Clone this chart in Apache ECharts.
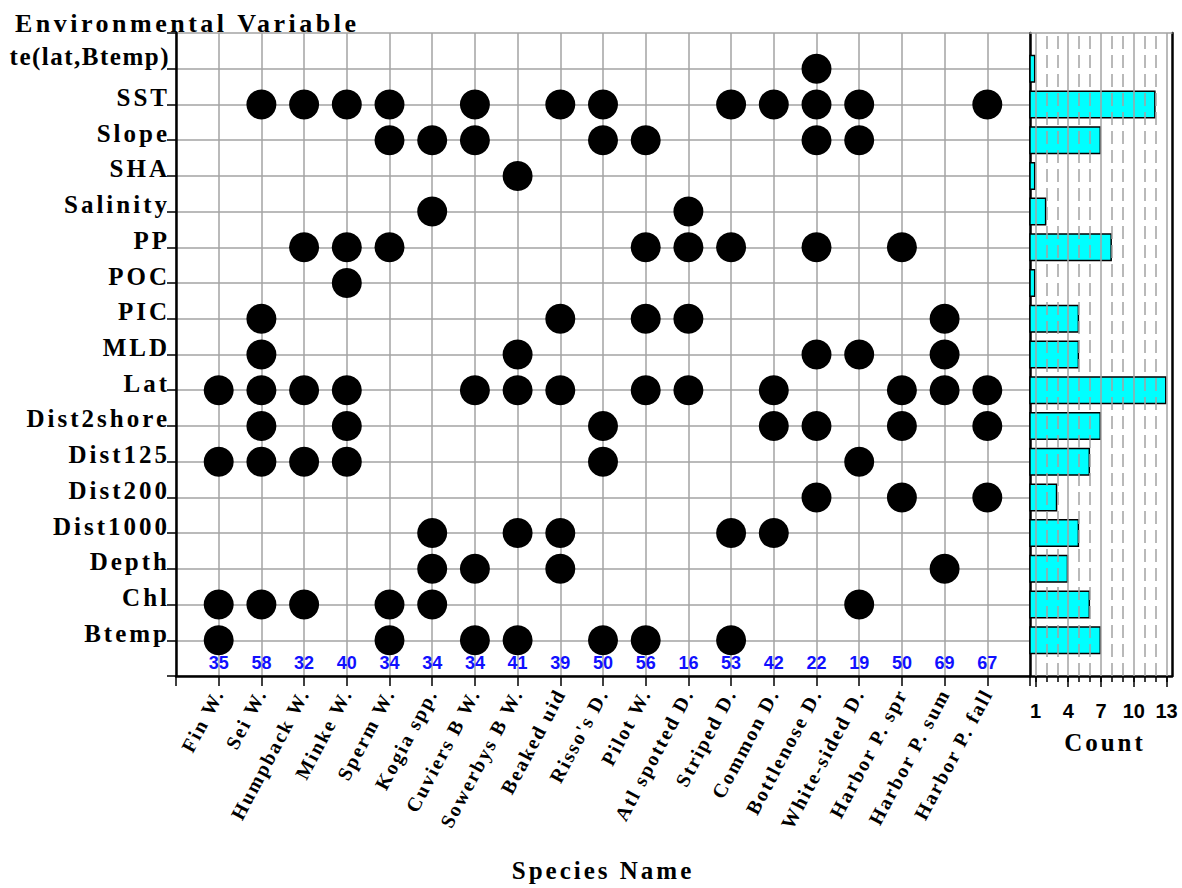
<!DOCTYPE html>
<html><head><meta charset="utf-8">
<script src="https://cdn.jsdelivr.net/npm/echarts@6/dist/echarts.min.js"></script>
<style>
html,body{margin:0;padding:0;background:#fff;}
#main{width:1182px;height:888px;}
#main text[style*="Serif"]{letter-spacing:2px;}
#main text[style*="25px"][style*="Serif"]{letter-spacing:3px;}
#main text[style*="26px"][style*="Serif"]{letter-spacing:3.5px;}
#main text[style*="Times"], #main tspan[style*="Times"]{letter-spacing:1.5px;}
</style></head><body><div id="main"></div>
<script>
// ---- data ----
const species = ['Fin W.','Sei W.','Humpback W.','Minke W.','Sperm W.','Kogia spp.','Cuviers B W.','Sowerbys B W.','Beaked uid',"Risso's D.",'Pilot W.','Atl spotted D.','Striped D.','Common D.','Bottlenose D.','White-sided D.','Harbor P. spr','Harbor P. sum','Harbor P. fall'];
const sampleSizes = [35,58,32,40,34,34,34,41,39,50,56,16,53,42,22,19,50,69,67];
// variables, top to bottom
const variables = ['te(lat,Btemp)','SST','Slope','SHA','Salinity','PP','POC','PIC','MLD','Lat','Dist2shore','Dist125','Dist200','Dist1000','Depth','Chl','Btemp'];
// selection flags per variable (one entry per species, same order as species)
const teLatBtemp = [0,0,0,0,0,0,0,0,0,0,0,0,0,0,1,0,0,0,0];
const sst        = [0,1,1,1,1,0,1,0,1,1,0,0,1,1,1,1,0,0,1];
const slope      = [0,0,0,0,1,1,1,0,0,1,1,0,0,0,1,1,0,0,0];
const sha        = [0,0,0,0,0,0,0,1,0,0,0,0,0,0,0,0,0,0,0];
const salinity   = [0,0,0,0,0,1,0,0,0,0,0,1,0,0,0,0,0,0,0];
const pp         = [0,0,1,1,1,0,0,0,0,0,1,1,1,0,1,0,1,0,0];
const poc        = [0,0,0,1,0,0,0,0,0,0,0,0,0,0,0,0,0,0,0];
const pic        = [0,1,0,0,0,0,0,0,1,0,1,1,0,0,0,0,0,1,0];
const mld        = [0,1,0,0,0,0,0,1,0,0,0,0,0,0,1,1,0,1,0];
const lat        = [1,1,1,1,0,0,1,1,1,0,1,1,0,1,0,0,1,1,1];
const dist2shore = [0,1,0,1,0,0,0,0,0,1,0,0,0,1,1,0,1,0,1];
const dist125    = [1,1,1,1,0,0,0,0,0,1,0,0,0,0,0,1,0,0,0];
const dist200    = [0,0,0,0,0,0,0,0,0,0,0,0,0,0,1,0,1,0,1];
const dist1000   = [0,0,0,0,0,1,0,1,1,0,0,0,1,1,0,0,0,0,0];
const depth      = [0,0,0,0,0,1,1,0,1,0,0,0,0,0,0,0,0,1,0];
const chl        = [1,1,1,0,1,1,0,0,0,0,0,0,0,0,0,1,0,0,0];
const btemp      = [1,0,0,0,1,0,1,1,0,1,1,0,1,0,0,0,0,0,0];
// counts (right panel), top to bottom
const counts = [1,12,7,1,2,8,1,5,5,13,7,6,3,5,4,6,7];
const countTicks = [1,4,7,10,13];
const countMinorTicks = [1,2,3,4,5,6,7,8,9,10,11,12,13];

// ---- build series data ----
const flagRows = [teLatBtemp,sst,slope,sha,salinity,pp,poc,pic,mld,lat,dist2shore,dist125,dist200,dist1000,depth,chl,btemp];
const nVar = variables.length;
const nSp = species.length;
const dots = [];
flagRows.forEach((row,i)=>row.forEach((f,j)=>{ if(f) dots.push([j+1, nVar-i]); }));
// right panel category axis: padded slots at bottom and top so rows line up with the left panel
const rowSlots = [''].concat(variables.slice().reverse(), ['']);
const bars = counts.map((c,i)=>[c, nVar-i]);
const nLabels = sampleSizes.map((n,j)=>[j+1, 0.36, n]);

const serif = 'Liberation Serif';
const sans = 'Liberation Sans';
const gridGray = '#a3a3a3';

const chart = echarts.init(document.getElementById('main'), null, {renderer:'svg'});
const markLineData = countMinorTicks.map(v=>({
  xAxis: v,
  lineStyle: countTicks.includes(v) ? {type:'solid', color:gridGray, width:1.5} : {type:[13,6], color:gridGray, width:1.5}
}));

chart.setOption({
  animation:false,
  backgroundColor:'#fff',
  grid:[
    {left:176, right:152, top:33, bottom:212},
    {left:1030, right:10, top:33, bottom:212}
  ],
  xAxis:[
    {gridIndex:0, type:'value', position:'bottom', min:0, max:nSp+1, interval:1,
      axisLine:{onZero:false, lineStyle:{color:'#000', width:2.5}},
      axisTick:{length:10, lineStyle:{color:'#000', width:1.5}},
      axisLabel:{rotate:62, margin:14, fontFamily:serif, fontWeight:'bold', fontSize:20, color:'#000',
        formatter:v=>species[v-1]||''},
      splitLine:{show:true, lineStyle:{color:gridGray, width:1.5}}},
    {gridIndex:1, type:'value', position:'bottom', min:0.5, max:13.5,
      axisLine:{onZero:false, lineStyle:{color:'#000', width:2.5}},
      axisTick:{customValues:countTicks, length:11, lineStyle:{color:'#000', width:1.5}},
      axisLabel:{customValues:countTicks, margin:25, fontFamily:sans, fontWeight:'bold', fontSize:20, color:'#000'},
      splitLine:{show:false}},
    {gridIndex:1, type:'value', position:'bottom', min:0.5, max:13.5,
      axisLine:{show:false, onZero:false},
      axisTick:{customValues:countMinorTicks, length:6, lineStyle:{color:'#000', width:1.5}},
      axisLabel:{show:false}, splitLine:{show:false}},
    {gridIndex:1, type:'value', position:'top', min:0.5, max:13.5,
      axisLine:{onZero:false, lineStyle:{color:gridGray, width:1.5}},
      axisTick:{show:false}, axisLabel:{show:false}, splitLine:{show:false}}
  ],
  yAxis:[
    {gridIndex:0, type:'value', position:'left', min:0, max:nVar+1, interval:1,
      axisLine:{onZero:false, lineStyle:{color:'#000', width:2.5}},
      axisTick:{length:9, lineStyle:{color:'#000', width:1.5}},
      axisLabel:{margin:6, fontFamily:serif, fontWeight:'bold', fontSize:25, color:'#000',
        verticalAlign:'bottom', lineHeight:14,
        formatter:v=>{ const s = variables[nVar-v]||''; return s.length>12 ? '{c|'+s+'}' : s; },
        rich:{c:{fontFamily:'Times New Roman', fontWeight:'bold', fontSize:25, color:'#000', lineHeight:14, verticalAlign:'bottom'}}},
      splitLine:{show:true, lineStyle:{color:gridGray, width:1.5}}},
    {gridIndex:1, type:'category', position:'left', data:rowSlots, boundaryGap:false,
      axisLine:{onZero:false, lineStyle:{color:'#000', width:2.5}},
      axisTick:{show:false}, axisLabel:{show:false}, splitLine:{show:false}},
    {gridIndex:1, type:'value', position:'right', min:0, max:nVar+1, interval:1,
      axisLine:{onZero:false, lineStyle:{color:'#000', width:2.5}},
      axisTick:{show:false}, axisLabel:{show:false}, splitLine:{show:false}}
  ],
  series:[
    {type:'scatter', xAxisIndex:0, yAxisIndex:0, data:dots, symbol:'circle', symbolSize:30,
      itemStyle:{color:'#000', opacity:1}, z:5, silent:true},
    {type:'scatter', xAxisIndex:0, yAxisIndex:0, data:nLabels, symbolSize:1,
      itemStyle:{color:'rgba(0,0,0,0)', opacity:1}, z:6, silent:true,
      label:{show:true, position:'inside', formatter:p=>String(p.value[2]),
        color:'#1010ff', opacity:1, fontFamily:sans, fontWeight:'bold', fontSize:18}},
    {type:'scatter', xAxisIndex:1, yAxisIndex:1, data:bars, symbolSize:0, z:1, silent:true,
      markLine:{silent:true, symbol:'none', label:{show:false}, data:markLineData}},
    {type:'bar', xAxisIndex:1, yAxisIndex:1, data:bars, barWidth:28, z:3, silent:true,
      itemStyle:{color:'#00ffff', borderColor:'#000', borderWidth:1.5}}
  ],
  graphic:[
    {type:'text', x:15, y:23, style:{text:'Environmental Variable', font:'bold 26px "Liberation Serif"', fill:'#000', align:'left', verticalAlign:'middle'}},
    {type:'text', x:603, y:870, style:{text:'Species Name', font:'bold 25px "Liberation Serif"', fill:'#000', align:'center', verticalAlign:'middle'}},
    {type:'text', x:1105, y:742, style:{text:'Count', font:'bold 25px "Liberation Serif"', fill:'#000', align:'center', verticalAlign:'middle'}}
  ]
});
</script></body></html>
